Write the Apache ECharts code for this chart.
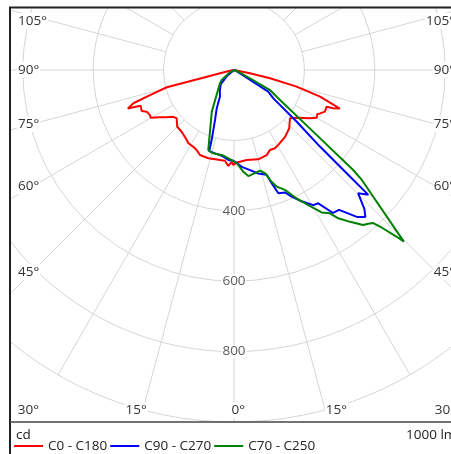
<!DOCTYPE html>
<html><head><meta charset="utf-8">
<script src="https://cdn.jsdelivr.net/npm/echarts@6/dist/echarts.min.js"></script>
<style>html,body{margin:0;padding:0;background:#fff;overflow:hidden}#c{width:451px;height:454px}</style>
</head><body><div id="c"></div>
<script>
// ---------- DATA (gamma in degrees, intensity in cd) ----------
const seriesNames = ['C0 - C180', 'C90 - C270', 'C70 - C250'];

const redLeft = [[0.4,270],[1.5,261],[3.4,273],[5.7,259],[8.8,259],[15,263],[16.2,261],[21.8,260],[25,251],[27.9,247],[31.9,245],[34,240],[40.3,230],[45,228],[49.9,213],[52.4,218],[55,234],[57.5,250],[60.2,273],[61.8,271],[64.5,275],[66,287],[69.1,284],[69.7,305],[70,321],[71.7,301],[73.4,249],[75.6,197],[80,15],[90,0]];
const redRight = [[1.7,263],[3.7,261],[8,258],[15.2,263],[21,259],[24.2,249],[27.6,251],[30.6,247],[37.4,239],[43.5,228],[49.2,210],[52.7,224],[57.6,256],[60,271],[62,268],[63.3,274],[65.4,284],[68.4,283],[68.9,302],[70,320],[72.8,256],[75.1,184],[77,105],[78.3,46],[90,0]];

const blueLeft = [[0.4,258],[3.6,256],[7,248],[9.4,245],[12.8,243],[17,241],[17.7,209],[19,180],[20.8,152],[24.3,119],[27.7,86],[35,70],[43,55],[50,25],[70,5],[90,0]];
const blueRight = [[1,262],[4.6,276],[9.1,288],[13.2,302],[17.3,312],[18.4,339],[19.8,372],[22.6,377],[24.5,395],[26.8,416],[30.4,445],[32.3,448],[34.7,494],[36.9,497],[39.9,544],[41.8,560],[43.2,541],[45.2,497],[47.1,521],[47.5,434],[48.3,327],[50.5,231],[54.2,138],[57.7,115],[60,20],[75,4],[90,0]];

const greenLeft = [[1.5,256],[7.1,245],[14,244],[17.8,239],[21.3,188],[28.1,134],[46.5,55],[50.9,45],[60,15],[90,0]];
const greenRight = [[1.7,265],[5.2,290],[7.7,304],[11.5,299],[14.5,295],[16.7,306],[18.6,335],[20.1,353],[23,370],[26,406],[28.8,438],[31.6,475],[33.8,490],[35.1,515],[37.4,543],[39.8,573],[41.1,580],[42.3,588],[43,608],[44.3,662],[44.7,686],[49.3,479],[50,442],[52.1,285],[57.4,149],[60.9,117],[62.6,51],[70,8],[90,0]];

const radiusTicks = [0, 200, 400, 600, 800, 1000];
const radiusLabels = [400, 600, 800];
const angleLabels = [0, 15, 30, 45, 60, 75, 90, 105];
const unitLeft = 'cd';
const unitRight = '1000 lm';

// ---------- LAYOUT ----------
const FONT = '"Open Sans", "Noto Sans", sans-serif';
const cx = 234, cy = 70, R = 352;
const FL = 10, FT = 8, FB = 422;
const colors = ['#ff0000', '#0000ff', '#008000'];

function plane(left, right) {
  const out = [];
  for (let i = left.length - 1; i >= 0; i--) out.push([left[i][1], left[i][0]]);
  for (let i = 0; i < right.length; i++) out.push([right[i][1], -right[i][0]]);
  return out;
}
const curves = [plane(redLeft, redRight), plane(blueLeft, blueRight), plane(greenLeft, greenRight)];

const series = [];
// spokes, starting at the first circle
for (let a = 0; a < 360; a += 15) {
  const v = a <= 180 ? a : a - 360;
  series.push({
    type: 'line', coordinateSystem: 'polar', silent: true, clip: false,
    symbol: 'none', z: 1, animation: false,
    lineStyle: { color: '#d6d6d6', width: 1 },
    data: [[radiusTicks[1], v], [1300, v]]
  });
}
series.push({
  type: 'scatter', coordinateSystem: 'polar', z: 3, silent: true, animation: false,
  symbolSize: 0, itemStyle: { color: 'rgba(0,0,0,0)' },
  data: radiusLabels.map(r => [r, 0]),
  label: { show: true, position: 'inside', formatter: p => String(p.value[0]),
    color: '#333', fontSize: 13.5, fontFamily: FONT, backgroundColor: '#fff', padding: [0, 1] }
});
seriesNames.forEach((n, i) => series.push({
  name: n, type: 'line', coordinateSystem: 'polar', clip: false, symbol: 'none',
  z: 4 + i, animation: false,
  lineStyle: { color: colors[i], width: 2 }, itemStyle: { color: colors[i] },
  data: curves[i]
}));

// angle labels
const graphics = [];
function txt(x, y, s, align) {
  graphics.push({ type: 'text', x: x, y: y, z: 50,
    style: { text: s, fill: '#333', font: '13.5px ' + FONT, textAlign: align, align: align,
      textVerticalAlign: 'middle', verticalAlign: 'middle', backgroundColor: '#fff', padding: [1, 1] } });
}
angleLabels.forEach(a => {
  const rad = a * Math.PI / 180, s = Math.sin(rad), c = Math.cos(rad);
  const tSide = s > 1e-9 ? (cx - FL) / s : Infinity;
  const tBot = c > 1e-9 ? (FB - cy) / c : Infinity;
  const tTop = c < -1e-9 ? (cy - FT) / -c : Infinity;
  const lab = a + '°';
  if (tSide <= Math.min(tBot, tTop)) {
    const y = Math.max(21, cy + (cx - 32) * c / s);
    txt(17, y, lab, 'left');
    txt(456, y, lab, 'right');
  } else if (tBot < tTop) {
    const d = (FB - cy) * s / c;
    if (a > 0) txt(Math.max(40, cx - d + 8), FB - 12, lab, 'right');
    txt(cx + d - 3.5, FB - 12, lab, 'left');
  }
});
// masks outside the frame
graphics.push({ type: 'rect', z: 100, silent: true, shape: { x: 0, y: 0, width: 451, height: FT - 1 }, style: { fill: '#fff' } });
graphics.push({ type: 'rect', z: 100, silent: true, shape: { x: 0, y: 0, width: FL - 1, height: 454 }, style: { fill: '#fff' } });
graphics.push({ type: 'rect', z: 100, silent: true, shape: { x: 0, y: FB + 1, width: 451, height: 454 - FB }, style: { fill: '#fff' } });
// frame
graphics.push({ type: 'line', z: 110, silent: true, shape: { x1: FL, y1: FT - 1, x2: FL, y2: 454 }, style: { stroke: '#222', lineWidth: 2 } });
graphics.push({ type: 'line', z: 110, silent: true, shape: { x1: FL - 1, y1: FT - 0.5, x2: 451, y2: FT - 0.5 }, style: { stroke: '#222', lineWidth: 2 } });
graphics.push({ type: 'line', z: 110, silent: true, shape: { x1: FL, y1: FB, x2: 451, y2: FB }, style: { stroke: '#444', lineWidth: 1.5 } });
// unit texts
graphics.push({ type: 'text', z: 120, x: 16, y: 435, style: { text: unitLeft, fill: '#222', font: '13.5px ' + FONT, textVerticalAlign: 'middle', verticalAlign: 'middle' } });
graphics.push({ type: 'text', z: 120, x: 406, y: 435, style: { text: unitRight, fill: '#222', font: '13.5px ' + FONT, textVerticalAlign: 'middle', verticalAlign: 'middle' } });

const chart = echarts.init(document.getElementById('c'), null, { renderer: 'canvas' });
chart.setOption({
  animation: false,
  backgroundColor: '#fff',
  polar: { center: [cx, cy], radius: R },
  angleAxis: { type: 'value', min: -180, max: 180, startAngle: 90, clockwise: true, show: false },
  radiusAxis: { type: 'value', min: radiusTicks[0], max: radiusTicks[radiusTicks.length - 1], interval: radiusTicks[1] - radiusTicks[0],
    axisLine: { show: false }, axisTick: { show: false }, axisLabel: { show: false },
    splitLine: { show: true, lineStyle: { color: '#d6d6d6', width: 1 } } },
  legend: { data: seriesNames, left: 14, top: 439, padding: 0, icon: 'rect', itemWidth: 29, itemHeight: 2, itemGap: 3,
    textStyle: { color: '#222', fontSize: 13.5, fontFamily: FONT }, z: 130, selectedMode: false },
  graphic: { elements: graphics },
  series: series
});
</script></body></html>
